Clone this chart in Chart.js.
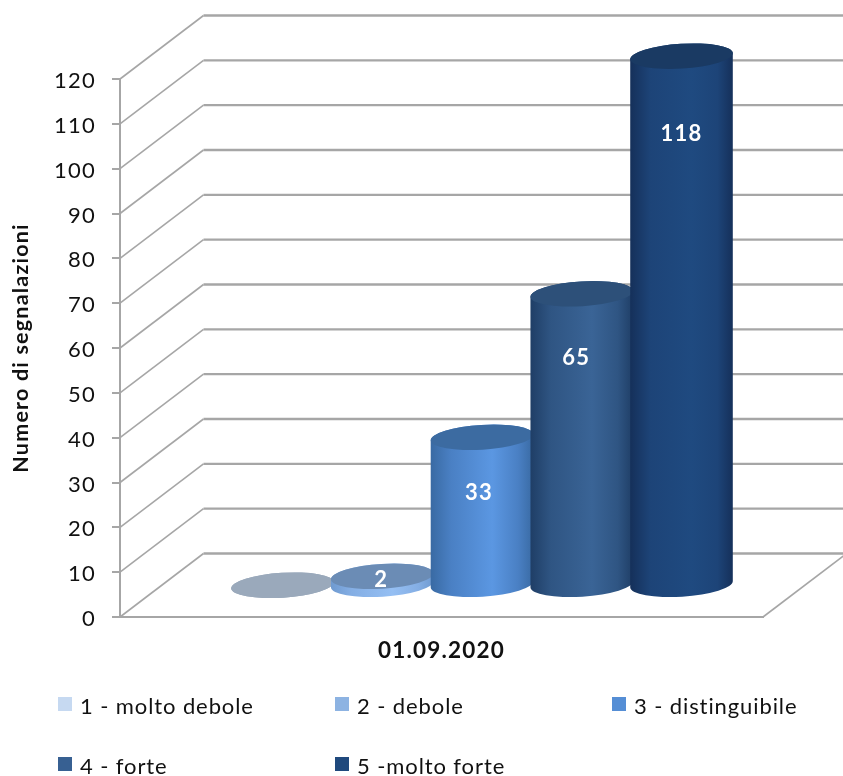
<!DOCTYPE html>
<html>
<head>
<meta charset="utf-8">
<title>Segnalazioni</title>
<script src="https://cdn.jsdelivr.net/npm/chart.js@4"></script>
<style>
  html, body { margin: 0; padding: 0; background: #fff; }
  canvas { display: block; }
</style>
</head>
<body>
<canvas id="main-chart" width="843" height="776"></canvas>
<script>
const categories = ['01.09.2020']
const seriesLabels = ['1 - molto debole', '2 - debole', '3 - distinguibile', '4 - forte', '5 -molto forte']
const seriesValues = [0, 2, 33, 65, 118]
const yMin = 0
const yMax = 120
const yStep = 10
const axisTitle = 'Numero di segnalazioni'

const legendColors = ['#c6d9f1', '#8db3e2', '#558ed5', '#376092', '#1f497d']
const topColors = ['#9aa9bb', '#6b8cb5', '#3c6ba1', '#2d5079', '#1a3a63']
const sideEdgeColors = ['#9aa9bb', '#6f9ad0', '#396aa3', '#1f3e66', '#15305a']
const sideShoulderColors = ['#9aa9bb', '#84aee4', '#4a80c4', '#2f5583', '#1d4478']
const sideMidColors = ['#9aa9bb', '#95bff3', '#5b97e2', '#3a6496', '#1f4a80']
// value labels do not sit quite on the cylinder axis in the reference
const labelNudgeX = [0, -1, -3, -5.5, 0]

const FONT = 'Lato, Carlito, sans-serif'
const LETTER_SPACING = '1.2px'
const LEGEND_LETTER_SPACING = '0.9px'
const GRID_COLOR = '#a6a6a6'
const DEPTH_X = 83.5
const DEPTH_Y = -63.5
const BAR_SHIFT_X = 40.5
const TILT = -3.5 * Math.PI / 180
const RY = 12.4

const drawWalls = (chart) => {
  const { ctx, chartArea, scales } = chart
  const y = scales.y
  ctx.save()
  ctx.strokeStyle = GRID_COLOR
  y.ticks.forEach(tick => {
    const py = y.getPixelForValue(tick.value)
    ctx.lineWidth = 1.6
    ctx.beginPath()
    ctx.moveTo(chartArea.left, py)
    ctx.lineTo(chartArea.left + DEPTH_X, py + DEPTH_Y)
    ctx.stroke()
    ctx.lineWidth = 2.3
    ctx.beginPath()
    ctx.moveTo(chartArea.left + DEPTH_X, py + DEPTH_Y)
    ctx.lineTo(chartArea.right + DEPTH_X, py + DEPTH_Y)
    ctx.stroke()
    if (tick.value === yMin) {
      ctx.lineWidth = 1.6
      ctx.beginPath()
      ctx.moveTo(chartArea.right + DEPTH_X, py + DEPTH_Y)
      ctx.lineTo(chartArea.right, py)
      ctx.stroke()
    }
  })
  ctx.restore()
}

const drawCylinder = (ctx, bar, index) => {
  const rx = bar.width / 2 + 1.5
  const cx = bar.x + BAR_SHIFT_X
  const topY = bar.y + DEPTH_Y / 2
  const baseY = bar.base + DEPTH_Y / 2

  const side = ctx.createLinearGradient(cx - rx, 0, cx + rx, 0)
  side.addColorStop(0, sideEdgeColors[index])
  side.addColorStop(0.2, sideShoulderColors[index])
  side.addColorStop(0.6, sideMidColors[index])
  side.addColorStop(0.85, sideShoulderColors[index])
  side.addColorStop(1, sideEdgeColors[index])

  ctx.beginPath()
  ctx.ellipse(cx, baseY, rx, RY, TILT, 0, Math.PI)
  ctx.ellipse(cx, topY, rx, RY, TILT, Math.PI, Math.PI * 2)
  ctx.closePath()
  ctx.fillStyle = side
  ctx.fill()

  ctx.beginPath()
  ctx.ellipse(cx, topY, rx, RY, TILT, 0, Math.PI * 2)
  ctx.fillStyle = topColors[index]
  ctx.fill()
}

const drawValueLabel = (ctx, bar, value, index) => {
  if (value === 0) return
  const topY = bar.y + DEPTH_Y / 2
  const baseY = bar.base + DEPTH_Y / 2
  const labelY = Math.min(topY + 47.5 + (baseY - topY) * 0.057, baseY - 4)
  ctx.fillStyle = '#fff'
  ctx.font = `bold 22px ${FONT}`
  ctx.textAlign = 'center'
  ctx.textBaseline = 'middle'
  ctx.fillText(String(value), bar.x + BAR_SHIFT_X + labelNudgeX[index], labelY)
}

const drawLegend = (chart) => {
  const { ctx } = chart
  const columns = [58, 335, 612]
  const rows = [714, 774]
  ctx.save()
  ctx.font = `22px ${FONT}`
  ctx.letterSpacing = LEGEND_LETTER_SPACING
  ctx.textAlign = 'left'
  ctx.textBaseline = 'alphabetic'
  chart.data.datasets.forEach((dataset, i) => {
    const x = columns[i % 3]
    const y = rows[Math.floor(i / 3)]
    ctx.fillStyle = dataset.backgroundColor
    ctx.fillRect(x, y - 17, 14, 14)
    ctx.fillStyle = '#111'
    ctx.fillText(dataset.label, x + 22, y)
  })
  ctx.restore()
}

// cylinders replace the flat bars, so the default dataset draw is cancelled
const cylinderPlugin = {
  id: 'cylinders',
  // the reference text is set wider than Lato
  beforeUpdate(chart) {
    chart.ctx.letterSpacing = LETTER_SPACING
  },
  beforeDraw(chart) {
    chart.ctx.letterSpacing = LETTER_SPACING
  },
  beforeDatasetsDraw(chart) {
    const { ctx } = chart
    drawWalls(chart)
    ctx.save()
    chart.data.datasets.forEach((dataset, i) => {
      drawCylinder(ctx, chart.getDatasetMeta(i).data[0], i)
    })
    chart.data.datasets.forEach((dataset, i) => {
      drawValueLabel(ctx, chart.getDatasetMeta(i).data[0], dataset.data[0], i)
    })
    ctx.restore()
    drawLegend(chart)
    return false
  }
}

const chartContext = document.getElementById('main-chart').getContext('2d')

new Chart(chartContext, {
  type: 'bar',
  data: {
    labels: categories,
    datasets: seriesLabels.map((label, i) => ({
      label,
      data: [seriesValues[i]],
      backgroundColor: legendColors[i]
    }))
  },
  options: {
    responsive: false,
    animation: false,
    categoryPercentage: 0.7757,
    barPercentage: 1,
    layout: { padding: { top: 79, right: 80, left: 8, bottom: 0 } },
    plugins: {
      legend: { display: false },
      tooltip: { enabled: false }
    },
    scales: {
      x: {
        afterFit: (scale) => { scale.height = 159 },
        grid: { display: false, drawTicks: false },
        border: { color: GRID_COLOR, width: 2 },
        ticks: {
          color: '#111',
          padding: 20,
          font: { family: FONT, size: 22.5, weight: 'bold' }
        }
      },
      y: {
        min: yMin,
        max: yMax,
        afterFit: (scale) => { scale.width = 112 },
        title: {
          display: true,
          text: axisTitle,
          color: '#111',
          padding: 0,
          font: { family: FONT, size: 21.5, weight: 'bold' }
        },
        grid: { drawOnChartArea: false, color: GRID_COLOR, lineWidth: 2, tickLength: 8 },
        border: { color: GRID_COLOR, width: 2 },
        ticks: {
          stepSize: yStep,
          color: '#111',
          padding: 16,
          labelOffset: 2,
          font: { family: FONT, size: 22 }
        }
      }
    }
  },
  plugins: [cylinderPlugin]
})
</script>
</body>
</html>
